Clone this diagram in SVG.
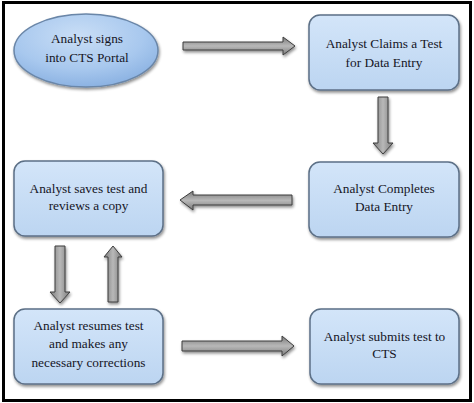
<svg xmlns="http://www.w3.org/2000/svg" width="474" height="403" viewBox="0 0 474 403">
<defs>
<linearGradient id="boxg" x1="0" y1="0" x2="0" y2="1">
<stop offset="0" stop-color="#d3e5f9"/>
<stop offset="1" stop-color="#bcd5f1"/>
</linearGradient>
<radialGradient id="ellg" cx="0.45" cy="0.3" r="0.75">
<stop offset="0" stop-color="#c9def6"/>
<stop offset="0.6" stop-color="#a8c8ee"/>
<stop offset="1" stop-color="#86aee0"/>
</radialGradient>
<linearGradient id="hg" x1="0" y1="0" x2="0" y2="1">
<stop offset="0" stop-color="#7a7a7a"/>
<stop offset="0.5" stop-color="#b8b8b8"/>
<stop offset="1" stop-color="#7a7a7a"/>
</linearGradient>
<linearGradient id="vg" x1="0" y1="0" x2="1" y2="0">
<stop offset="0" stop-color="#7a7a7a"/>
<stop offset="0.5" stop-color="#b8b8b8"/>
<stop offset="1" stop-color="#7a7a7a"/>
</linearGradient>
<filter id="sh" x="-20%" y="-20%" width="140%" height="150%">
<feGaussianBlur in="SourceAlpha" stdDeviation="1.5"/>
<feOffset dx="1" dy="2" result="b"/>
<feComponentTransfer><feFuncA type="linear" slope="0.45"/></feComponentTransfer>
<feMerge><feMergeNode/><feMergeNode in="SourceGraphic"/></feMerge>
</filter>
</defs>
<style>
.box{fill:url(#boxg);stroke:#5c6f86;stroke-width:1.5;filter:url(#sh)}
.ell{fill:url(#ellg);stroke:#6a86a8;stroke-width:1.5;filter:url(#sh)}
.ah{fill:url(#hg);stroke:#3c3c3c;stroke-width:1;filter:url(#sh)}
.av{fill:url(#vg);stroke:#3c3c3c;stroke-width:1;filter:url(#sh)}
.t{font-size:13.3px;fill:#15151f;text-anchor:middle}
</style>
<rect x="0" y="0" width="474" height="403" fill="#ffffff"/>
<rect x="3.5" y="2.5" width="467" height="398" fill="#ffffff" stroke="#000000" stroke-width="3"/>

<g id="connectors">
<path class="ah" d="M183,42 H283 V37 L295,46 L283,55 V50 H183 Z"/>
<path class="av" d="M378,97 H388 V143 H393 L383,154 L373,143 H378 Z"/>
<path class="ah" d="M292,195 H193 V191 L180,200 L193,210 V205 H292 Z"/>
<path class="av" d="M55,246 H65 V292 H70 L60,303 L50,292 H55 Z"/>
<path class="av" d="M108,302 V257 H104 L113,246 L122,257 H118 V302 Z"/>
<path class="ah" d="M182,341 H282 V336 L294,346 L282,356 V351 H182 Z"/>
</g>

<g font-family="Liberation Serif, DejaVu Serif, serif">
<g id="n1">
<ellipse class="ell" cx="86" cy="50.5" rx="72" ry="36.5"/>
<text class="t" x="87" y="43">Analyst signs</text>
<text class="t" x="87" y="62">into CTS Portal</text>
</g>

<g id="n2">
<rect class="box" x="309" y="15" width="150" height="75" rx="11"/>
<text class="t" x="384" y="48">Analyst Claims a Test</text>
<text class="t" x="384" y="67">for Data Entry</text>
</g>

<g id="n3">
<rect class="box" x="309" y="162" width="150" height="75" rx="11"/>
<text class="t" x="384" y="193">Analyst Completes</text>
<text class="t" x="384" y="211">Data Entry</text>
</g>

<g id="n4">
<rect class="box" x="14" y="161" width="149" height="75" rx="11"/>
<text class="t" x="88.5" y="193">Analyst saves test and</text>
<text class="t" x="88.5" y="210">reviews a copy</text>
</g>

<g id="n5">
<rect class="box" x="14" y="309" width="149" height="75" rx="11"/>
<text class="t" x="88.5" y="330">Analyst resumes test</text>
<text class="t" x="88.5" y="348">and makes any</text>
<text class="t" x="88.5" y="367">necessary corrections</text>
</g>

<g id="n6">
<rect class="box" x="310" y="309" width="149" height="75" rx="11"/>
<text class="t" x="384.5" y="341">Analyst submits test to</text>
<text class="t" x="384.5" y="358">CTS</text>
</g>
</g>
</svg>
